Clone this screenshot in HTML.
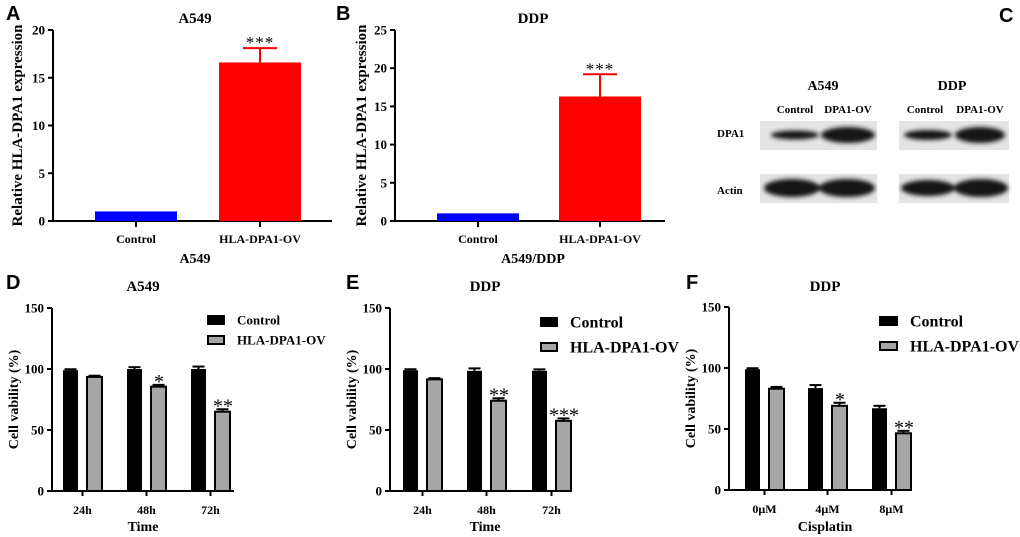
<!DOCTYPE html>
<html><head><meta charset="utf-8"><style>
html,body{margin:0;padding:0;background:#fff;}
svg{display:block;font-family:"Liberation Serif",serif;font-weight:bold;}
.lt{font-family:"Liberation Sans",sans-serif;font-weight:bold;font-size:20px;}
</style></head><body>
<svg id="fig" width="1020" height="537" viewBox="0 0 1020 537">
<defs>
<filter id="blur" x="-20%" y="-50%" width="140%" height="200%"><feGaussianBlur stdDeviation="2.2"/></filter>
</defs>
<text class="lt" x="6" y="20">A</text>
<text class="lt" x="336" y="20">B</text>
<text class="lt" x="999" y="22">C</text>
<text class="lt" x="6" y="289">D</text>
<text class="lt" x="346" y="289">E</text>
<text class="lt" x="686" y="289">F</text>

<g>
<text x="823" y="90" font-size="14" text-anchor="middle">A549</text>
<text x="952" y="90" font-size="14" text-anchor="middle">DDP</text>
<text x="795" y="113" font-size="11" text-anchor="middle">Control</text>
<text x="848" y="113" font-size="11" text-anchor="middle">DPA1-OV</text>
<text x="925" y="113" font-size="11" text-anchor="middle">Control</text>
<text x="980" y="113" font-size="11" text-anchor="middle">DPA1-OV</text>
<text x="717" y="137" font-size="11">DPA1</text>
<text x="717" y="194" font-size="11">Actin</text>
<rect x="760" y="121" width="117" height="29" fill="#e4e4e4"/>
<rect x="899" y="121" width="110" height="29" fill="#e4e4e4"/>
<rect x="760" y="174" width="117" height="29" fill="#e4e4e4"/>
<rect x="899" y="174" width="110" height="29" fill="#e4e4e4"/>
<g filter="url(#blur)" fill="#151515">
<ellipse cx="795" cy="135" rx="24" ry="4.5"/>
<ellipse cx="848" cy="135" rx="27" ry="8"/>
<ellipse cx="928" cy="135" rx="24" ry="5"/>
<ellipse cx="980" cy="135" rx="25" ry="8"/>
<ellipse cx="792" cy="188" rx="28" ry="9"/>
<ellipse cx="847" cy="188" rx="28" ry="9"/>
<ellipse cx="928" cy="188" rx="27" ry="8"/>
<ellipse cx="981" cy="188" rx="27" ry="9"/>
</g>
</g>
</svg>
<script>
// Panel A
const aCats = ["Control", "HLA-DPA1-OV"];
const aVals = [1, 16.6];
const aErrs = [0, 1.5];
const aSig = ["", "***"];
const aTicks = [0, 5, 10, 15, 20];
// Panel B
const bCats = ["Control", "HLA-DPA1-OV"];
const bVals = [1, 16.3];
const bErrs = [0, 2.9];
const bSig = ["", "***"];
const bTicks = [0, 5, 10, 15, 20, 25];
// Panel D
const dCats = ["24h", "48h", "72h"];
const dControl = [99, 100, 100];
const dControlErr = [0.8, 1.5, 2];
const dOV = [93.5, 85.5, 65];
const dOVErr = [1, 1.5, 2];
const dSig = ["", "*", "**"];
// Panel E
const eCats = ["24h", "48h", "72h"];
const eControl = [99, 98.5, 98.5];
const eControlErr = [0.8, 2, 1.2];
const eOV = [91.5, 74, 57.5];
const eOVErr = [1, 2, 2];
const eSig = ["", "**", "***"];
// Panel F
const fCats = ["0μM", "4μM", "8μM"];
const fControl = [99, 83.5, 67];
const fControlErr = [0.8, 2.5, 2];
const fOV = [83, 69, 46.5];
const fOVErr = [1.5, 2.5, 2];
const fSig = ["", "*", "**"];
const vTicks = [0, 50, 100, 150];

const NS = "http://www.w3.org/2000/svg";
const svg = document.getElementById("fig");
function el(tag, attrs, parent, text) {
  const e = document.createElementNS(NS, tag);
  for (const k in attrs) e.setAttribute(k, attrs[k]);
  if (text !== undefined) e.textContent = text;
  (parent || svg).appendChild(e);
  return e;
}

function axes(g, cfg) {
  const y = v => cfg.y0 - (v - cfg.min) / (cfg.max - cfg.min) * (cfg.y0 - cfg.y1);
  const ax = el("line", {x1: cfg.x0, y1: cfg.y1, x2: cfg.x0, y2: cfg.y0 + 1, stroke: "#000", "stroke-width": 2}, g);
  
  
  const bx = el("line", {x1: cfg.x0 - 1, y1: cfg.y0, x2: cfg.xEnd, y2: cfg.y0, stroke: "#000", "stroke-width": 2}, g);
  
  
  cfg.ticks.forEach(t => {
    const l = el("line", {x1: cfg.x0 - 5, y1: y(t), x2: cfg.x0, y2: y(t), stroke: "#000", "stroke-width": 2}, g);
    
    
    const tx = el("text", {x: cfg.x0 - 8, y: y(t) + 4.5, "font-size": 13, "text-anchor": "end"}, g, String(t));
    
    
  });
  const yl = el("text", {x: 0, y: 0, "font-size": cfg.ylSize, "text-anchor": "middle", transform: `translate(${cfg.ylX},${(cfg.y0 + cfg.y1) / 2}) rotate(-90)`}, g, cfg.ylabel);
  
  
  const ti = el("text", {x: cfg.titleX, y: cfg.titleY, "font-size": 15, "text-anchor": "middle"}, g, cfg.title);
  
  
  const xl = el("text", {x: cfg.titleX, y: cfg.xlY, "font-size": 14, "text-anchor": "middle"}, g, cfg.xlabel);
  
  
  return y;
}

function errBar(g, cx, yTop, yErr, half, color, w) {
  const e1 = el("line", {x1: cx, y1: yTop, x2: cx, y2: yErr, stroke: color, "stroke-width": w}, g);
  
  
  const e2 = el("line", {x1: cx - half, y1: yErr, x2: cx + half, y2: yErr, stroke: color, "stroke-width": w}, g);
  
  
}

function panelExpr(cfg, cats, vals, errs, sig, name) {
  const g = el("g", {}, svg);
  
  
  const y = axes(g, cfg);
  const colors = ["#0000ff", "#ff0000"];
  cats.forEach((c, i) => {
    const cx = cfg.cx[i];
    const r = el("rect", {x: cx - 41, y: y(vals[i]), width: 82, height: cfg.y0 - y(vals[i]), fill: colors[i]}, g);
    
    
    if (errs[i] > 0) errBar(g, cx, y(vals[i]), y(vals[i] + errs[i]), 17, colors[i], 2);
    if (sig[i]) {
      const s = el("text", {x: cx, y: y(vals[i] + errs[i]) + 0, "font-size": 17, "text-anchor": "middle", "font-weight": "normal", "letter-spacing": "1"}, g, sig[i]);
      
      
    }
    const tk = el("line", {x1: cx, y1: cfg.y0, x2: cx, y2: cfg.y0 + 6, stroke: "#000", "stroke-width": 2}, g);
    
    
    const tl = el("text", {x: cx, y: cfg.y0 + 22, "font-size": 12, "text-anchor": "middle"}, g, c);
    
    
  });
}

function panelVia(cfg, cats, ctrl, ctrlErr, ov, ovErr, sig, name) {
  const g = el("g", {}, svg);
  
  
  const y = axes(g, cfg);
  cats.forEach((c, i) => {
    const bx = cfg.gx[i];
    const r1 = el("rect", {x: bx, y: y(ctrl[i]), width: 15, height: cfg.y0 - y(ctrl[i]), fill: "#000"}, g);
    
    
    errBar(g, bx + 7.5, y(ctrl[i]), y(ctrl[i] + ctrlErr[i]), 6, "#000", 2);
    const ox = bx + 24;
    const r2 = el("rect", {x: ox, y: y(ov[i]), width: 15, height: cfg.y0 - y(ov[i]), fill: "#a6a6a6", stroke: "#000", "stroke-width": 2}, g);
    
    
    errBar(g, ox + 7.5, y(ov[i]), y(ov[i] + ovErr[i]), 6, "#000", 2);
    if (sig[i]) {
      const s = el("text", {x: ox + 8, y: y(ov[i] + ovErr[i]) + 3, "font-size": 20, "text-anchor": "middle", "font-weight": "normal"}, g, sig[i]);
      
      
    }
    const cx = bx + 19.5;
    const tk = el("line", {x1: cx, y1: cfg.y0, x2: cx, y2: cfg.y0 + 5, stroke: "#000", "stroke-width": 2}, g);
    
    
    const tl = el("text", {x: cx, y: cfg.y0 + 23, "font-size": 12, "text-anchor": "middle"}, g, c);
    
    
  });
  const L = cfg.leg;
  const lb1 = el("rect", {x: L.x, y: L.y1 - 5, width: L.w, height: 10, fill: "#000"}, g);
  
  
  const lt1 = el("text", {x: L.tx, y: L.y1 + L.fs * 0.35, "font-size": L.fs}, g, "Control");
  
  
  const lb2 = el("rect", {x: L.x + 1, y: L.y2 - 4, width: L.w - 2, height: 8, fill: "#a6a6a6", stroke: "#000", "stroke-width": 2}, g);
  
  
  const lt2 = el("text", {x: L.tx, y: L.y2 + L.fs * 0.35, "font-size": L.fs}, g, "HLA-DPA1-OV");
  
  
}

panelExpr({x0: 53, y0: 221, y1: 30, min: 0, max: 20, xEnd: 332, ticks: aTicks, ylabel: "Relative HLA-DPA1 expression", ylX: 22, ylSize: 15, title: "A549", titleX: 195, titleY: 23, xlabel: "A549", xlY: 263, cx: [136, 260]}, aCats, aVals, aErrs, aSig, "panel-a-chart");
panelExpr({x0: 395, y0: 221, y1: 30, min: 0, max: 25, xEnd: 665, ticks: bTicks, ylabel: "Relative HLA-DPA1 expression", ylX: 366, ylSize: 15, title: "DDP", titleX: 533, titleY: 23, xlabel: "A549/DDP", xlY: 263, cx: [478, 600]}, bCats, bVals, bErrs, bSig, "panel-b-chart");
panelVia({x0: 52, y0: 491, y1: 308, min: 0, max: 150, xEnd: 234, ticks: vTicks, ylabel: "Cell vability (%)", ylX: 18, ylSize: 14, title: "A549", titleX: 143, titleY: 291, xlabel: "Time", xlY: 531, gx: [63, 127, 191], leg: {x: 207, w: 18, y1: 320, y2: 340, tx: 237, fs: 13}}, dCats, dControl, dControlErr, dOV, dOVErr, dSig, "panel-d-chart");
panelVia({x0: 390, y0: 491, y1: 308, min: 0, max: 150, xEnd: 572, ticks: vTicks, ylabel: "Cell vability (%)", ylX: 356, ylSize: 14, title: "DDP", titleX: 485, titleY: 291, xlabel: "Time", xlY: 531, gx: [403, 467, 532], leg: {x: 540, w: 18, y1: 322, y2: 347, tx: 570, fs: 16}}, eCats, eControl, eControlErr, eOV, eOVErr, eSig, "panel-e-chart");
panelVia({x0: 729, y0: 490, y1: 307, min: 0, max: 150, xEnd: 912, ticks: vTicks, ylabel: "Cell vability (%)", ylX: 695, ylSize: 14, title: "DDP", titleX: 825, titleY: 291, xlabel: "Cisplatin", xlY: 531, gx: [745, 808, 872], leg: {x: 879, w: 19, y1: 321, y2: 346, tx: 910, fs: 16}}, fCats, fControl, fControlErr, fOV, fOVErr, fSig, "panel-f-chart");
</script>
</body></html>
